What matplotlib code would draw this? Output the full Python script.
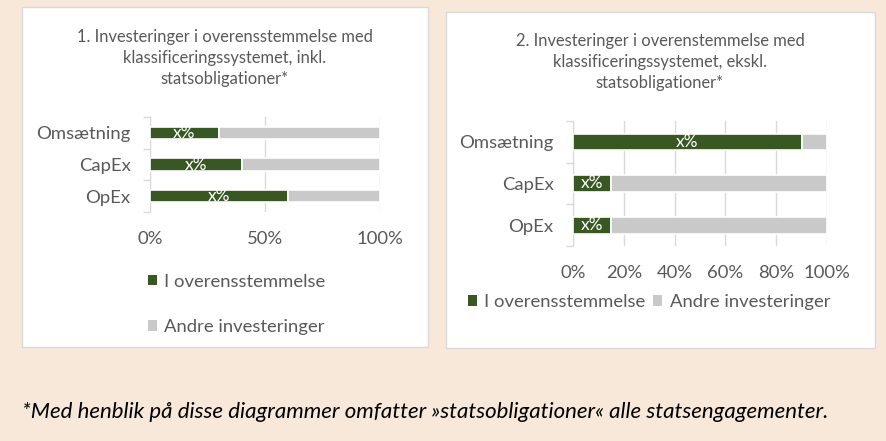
import numpy as np
import matplotlib.pyplot as plt
from matplotlib.patches import Rectangle, Patch

plt.rcParams['font.family'] = ['Lato', 'DejaVu Sans']

# data
categories = ['Omsætning', 'CapEx', 'OpEx']
aligned_incl = [30, 40, 60]
other_incl = [70, 60, 40]
aligned_excl = [90, 15, 15]
other_excl = [10, 85, 85]
bar_labels = ['x%', 'x%', 'x%']
series_names = ['I overensstemmelse', 'Andre investeringer']
title_incl = '1. Investeringer i overensstemmelse med\nklassificeringssystemet, inkl.\nstatsobligationer*'
title_excl = '2. Investeringer i overenstemmelse med\nklassificeringssystemet, ekskl.\nstatsobligationer*'
footnote = '*Med henblik på disse diagrammer omfatter »statsobligationer« alle statsengagementer.'

GREEN = '#385723'
GREY = '#C9C9C9'
TXT = '#595959'
GRID = '#D9D9D9'

W, H = 886, 441
fig = plt.figure(figsize=(W / 100, H / 100), dpi=100)
fig.patch.set_facecolor('#F8E8DA')


def px_rect(x0, y0, x1, y1):
    # pixel box (top-left origin) -> figure fraction [l, b, w, h]
    return [x0 / W, 1 - y1 / H, (x1 - x0) / W, (y1 - y0) / H]


# white panels
for box in [(22, 7, 428, 347), (446, 12, 875, 348)]:
    l, b, w, h = px_rect(*box)
    fig.patches.append(Rectangle((l, b), w, h, transform=fig.transFigure,
                                 facecolor='white', edgecolor='#D9D9D9', lw=1, zorder=-5))


def draw(ax, aligned, other, bar_h, xticks, fs):
    y = np.arange(len(categories))
    ax.barh(y, aligned, height=bar_h, color=GREEN, edgecolor='white', lw=1.2, zorder=3)
    ax.barh(y, other, left=aligned, height=bar_h, color=GREY, edgecolor='white', lw=1.2, zorder=3)
    for yi, a, lab in zip(y, aligned, bar_labels):
        ax.text(a / 2, yi, lab, color='white', ha='center', va='center', fontsize=fs + 0.5, zorder=4)
    ax.set_xlim(0, 100)
    ax.set_ylim(len(categories) - 0.5, -0.5)
    ax.set_yticks(y)
    ax.set_yticklabels(categories)
    ax.set_yticks(np.arange(len(categories) + 1) - 0.5, minor=True)
    ax.tick_params(axis='y', which='major', length=0, pad=14, labelsize=fs + 1.3, labelcolor=TXT)
    ax.tick_params(axis='y', which='minor', length=5, color=GRID, width=1)
    ax.set_xticks(xticks)
    ax.set_xticklabels([f'{t}%' for t in xticks])
    ax.tick_params(axis='x', length=0, pad=14, labelsize=fs + 1.3, labelcolor=TXT)
    ax.grid(axis='x', color=GRID, lw=1, zorder=0)
    ax.set_axisbelow(True)
    for s in ['top', 'right', 'bottom']:
        ax.spines[s].set_visible(False)
    ax.spines['left'].set_color(GRID)
    ax.set_facecolor('none')


handles = [Patch(facecolor=GREEN), Patch(facecolor=GREY)]

ax1 = fig.add_axes(px_rect(150, 117, 380, 212))
draw(ax1, aligned_incl, other_incl, 0.38, [0, 50, 100], 12)
fig.text(225 / W, 1 - 58 / H, title_incl, ha='center', va='center', fontsize=11.9,
         color=TXT, linespacing=1.35)
fig.legend(handles, series_names, loc='upper left', bbox_to_anchor=(131 / W, 1 - 257 / H),
           ncol=1, frameon=False, fontsize=13.3, labelcolor=TXT, handlelength=0.5,
           handleheight=0.5, handletextpad=0.4, labelspacing=1.6)

ax2 = fig.add_axes(px_rect(573, 121, 827, 246))
draw(ax2, aligned_excl, other_excl, 0.4, [0, 20, 40, 60, 80, 100], 12)
fig.text(660 / W, 1 - 62 / H, title_excl, ha='center', va='center', fontsize=11.9,
         color=TXT, linespacing=1.35)
fig.legend(handles, series_names, loc='center left', bbox_to_anchor=(451 / W, 1 - 302 / H),
           ncol=2, frameon=False, fontsize=13.3, labelcolor=TXT, handlelength=0.5,
           handleheight=0.5, handletextpad=0.4, columnspacing=0.4)

fig.text(22 / W, 1 - 412 / H, footnote, ha='left', va='center', fontsize=16,
         style='italic', color='black')

fig.savefig('out.png', dpi=100, facecolor=fig.get_facecolor())
